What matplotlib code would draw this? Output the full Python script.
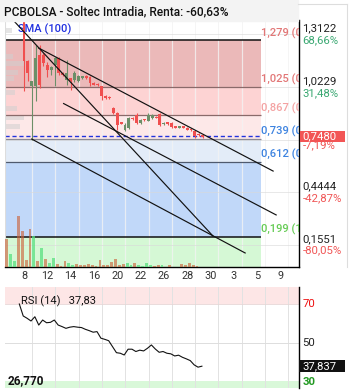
import numpy as np
import matplotlib
matplotlib.use("Agg")
import matplotlib.pyplot as plt
from matplotlib import transforms

plt.rcParams['font.family'] = ['Roboto', 'DejaVu Sans']

# ---------------- data ----------------
tick_labels = ["8", "12", "14", "16", "20", "22", "26", "28", "30", "3", "5", "9"]

opens  = [1.385, 1.166, 1.028, 1.028, 1.199, 1.199, 1.144, 1.116, 1.145, 1.182,
          1.100, 1.063, 1.072, 1.063, 1.056, 1.072, 1.083, 1.078, 1.045, 1.040,
          1.028, 0.973, 0.970, 0.908, 0.880, 0.828, 0.787, 0.798, 0.853, 0.871,
          0.825, 0.845, 0.838, 0.852, 0.860, 0.875, 0.820, 0.828, 0.825, 0.806,
          0.798, 0.806, 0.798, 0.792, 0.780, 0.764, 0.757]
highs  = [1.391, 1.172, 1.045, 1.254, 1.254, 1.210, 1.160, 1.140, 1.190, 1.190,
          1.105, 1.173, 1.075, 1.110, 1.090, 1.086, 1.088, 1.083, 1.050, 1.045,
          1.030, 0.978, 0.975, 0.912, 0.884, 0.832, 0.825, 0.858, 0.858, 0.880,
          0.848, 0.849, 0.878, 0.872, 0.864, 0.880, 0.830, 0.832, 0.828, 0.810,
          0.810, 0.810, 0.801, 0.795, 0.784, 0.768, 0.760]
lows   = [1.001, 1.056, 0.732, 0.946, 1.020, 1.140, 1.078, 1.090, 1.028, 1.090,
          1.085, 1.036, 1.006, 1.050, 1.050, 1.068, 1.068, 1.028, 1.032, 1.030,
          0.953, 0.955, 0.958, 0.876, 0.789, 0.818, 0.780, 0.790, 0.840, 0.820,
          0.820, 0.836, 0.834, 0.848, 0.851, 0.810, 0.816, 0.816, 0.795, 0.796,
          0.795, 0.795, 0.785, 0.782, 0.745, 0.752, 0.745]
closes = [1.166, 1.100, 1.056, 1.182, 1.034, 1.155, 1.116, 1.133, 1.182, 1.100,
          1.091, 1.100, 1.056, 1.100, 1.083, 1.083, 1.072, 1.045, 1.036, 1.034,
          0.973, 0.962, 0.962, 0.880, 0.814, 0.822, 0.814, 0.853, 0.845, 0.825,
          0.843, 0.840, 0.869, 0.869, 0.855, 0.816, 0.826, 0.820, 0.803, 0.800,
          0.806, 0.798, 0.789, 0.786, 0.752, 0.757, 0.748]

volume = [284, 127, 57, 514, 357, 67, 384, 307, 57, 194,
          77, 37, 87, 34, 10, 64, 44, 20, 34, 17,
          17, 34, 24, 10, 74, 24, 24, 50, 84, 17,
          34, 44, 17, 44, 17, 8, 44, 17, 8, 24,
          17, 5, 17, 5, 5, 27, 17, 43, 17, 8]
volume_up = [0, 1, 1, 0, 0, 0, 0, 1, 0, 1,
             0, 1, 1, 0, 0, 0, 1, 1, 0, 0,
             0, 0, 0, 0, 0, 0, 0, 0, 0, 0,
             0, 1, 1, 0, 1, 1, 1, 1, 0, 0,
             1, 0, 0, 0, 0, 0, 0, 0, 0, 0]

rsi = [70.0, 63.8, 62.6, 61.2, 63.4, 59.1, 61.7, 60.3, 60.5, 61.7,
       59.1, 58.3, 57.4, 58.0, 58.3, 58.0, 57.8, 56.9, 56.2, 55.4,
       55.7, 52.3, 51.7, 51.0, 47.9, 44.8, 44.5, 43.6, 46.6, 46.6,
       45.4, 46.1, 45.7, 47.1, 48.8, 46.7, 45.0, 45.4, 44.5, 44.2,
       43.1, 43.5, 42.4, 41.6, 40.7, 38.5, 37.3, 37.8]

fib_levels = [1.279, 1.025, 0.867, 0.739, 0.612, 0.199]
fib_texts = ["1,279 (0)", "1,025 (0,236)", "0,867 (0,382)",
             "0,739 (0,5)", "0,612 (0,618)", "0,199 (1)"]
sma_value = 0.754
last_price = 0.748

grid_values = [1.3122, 1.0229, 0.7337, 0.4444, 0.1551]
right_labels = ["1,3122", "1,0229", "0,7480", "0,4444", "0,1551"]
right_pcts = ["68,66%", "31,48%", "-7,19%", "-42,87%", "-80,05%"]

vp_prices = [1.335, 1.190, 1.150, 1.105, 1.070, 0.995, 0.905, 0.855, 0.805]
vp_volume = [30, 35, 90, 60, 40, 45, 55, 85, 70]

# trend lines (x in tick-index units, y in price)
trend_lines = [
    ((-0.47, 1.391), (8.11, 0.204)),
    ((0.63, 1.237), (10.69, 0.561)),
    ((1.70, 0.932), (10.82, 0.320)),
    ((0.33, 0.737), (9.49, 0.111)),
]

# ---------------- figure ----------------
W, H = 353, 390
fig = plt.figure(figsize=(W / 100, H / 100), dpi=100)


def rect(l, t, r, b):
    return [l / W, 1 - b / H, (r - l) / W, (b - t) / H]


XL, XR = -0.815, 11.80
ZONE_END = 10.16

# title band
fig.patches.append(plt.Rectangle((0, 1 - 21 / H), 298 / W, 21 / H,
                                 transform=fig.transFigure, color="#f3f3f3", zorder=0))
fig.add_artist(plt.Line2D([298 / W, 347 / W], [1 - 4 / H, 1 - 4 / H],
                          transform=fig.transFigure, color="#dddddd", lw=0.8))
fig.add_artist(plt.Line2D([347 / W, 347 / W], [1 - 4 / H, 1 - 267 / H],
                          transform=fig.transFigure, color="#dddddd", lw=0.8))
fig.text(4 / W, 1 - 12 / H, "PCBOLSA - Soltec Intradia, Renta: -60,63%",
         fontsize=8.6, fontweight="medium", color="#111111", va="center", ha="left")

ax = fig.add_axes(rect(5, 20, 299, 267))
ax.set_xlim(XL, XR)
ax.set_ylim(0.034, 1.391)

# fib zones
zone_colors = ["#ebb9b9", "#fdd3d3", "#fde8e8", "#e3ecf8", "#c1d8f9"]
for i in range(len(fib_levels) - 1):
    ax.fill_between([XL, ZONE_END], fib_levels[i + 1], fib_levels[i],
                    color=zone_colors[i], lw=0, zorder=0)
ax.fill_between([XL, ZONE_END], 0.034, fib_levels[-1], color="#d5f8d5", lw=0, zorder=0)

# grid
for i in range(len(tick_labels)):
    ax.axvline(i + 0.343, color="#ffffff", lw=0.9, alpha=0.55, zorder=0.5)
    ax.axvline(i + 0.343, color="#d9d9d9", lw=0.7, alpha=0.55, zorder=0.4)
for g in grid_values:
    ax.axhline(g, color="#d9d9d9", lw=0.7, alpha=0.6, zorder=0.5)

# volume profile
vp_max = max(vp_volume)
ax.barh(vp_prices, [v / vp_max * 0.85 for v in vp_volume], height=0.028, left=XL,
        color="#d0d0d0", alpha=0.55, lw=0, zorder=0.6)

# fib lines
fib_line_colors = ["#111111", "#8a6a6a", "#8a6a6a", "#8a8a96", "#4f5a6e", "#111111"]
fib_line_widths = [1.1, 0.9, 0.9, 0.9, 0.9, 1.1]
for lvl, c, lw in zip(fib_levels, fib_line_colors, fib_line_widths):
    ax.hlines(lvl, XL, ZONE_END, color=c, lw=lw, zorder=1)
ax.hlines(sma_value, XL, ZONE_END, color="#2233dd", lw=1.0, linestyles=(0, (3, 2)), zorder=1.2)

# fib labels
fib_label_colors = ["#e27777", "#e27777", "#f4a3a3", "#3d83e0", "#3d83e0", "#66cc55"]
off = transforms.offset_copy(ax.transData, fig=fig, x=0, y=1.2, units="points")
for lvl, t, c in zip(fib_levels, fib_texts, fib_label_colors):
    ax.text(ZONE_END + 0.02, lvl, t, color=c, fontsize=8.0, fontweight="medium",
            va="bottom", ha="left", transform=off, clip_on=True, zorder=3)

# SMA label
ax.text(0.045, 0.985, "SMA (100)", transform=ax.transAxes, color="#2030e0",
        fontsize=7.9, fontweight="medium", va="top", ha="left", zorder=2)

# volume (twin axis)
axv = ax.twinx()
axv.set_ylim(0, max(volume) * 247 / 51.4)
vol_x = [-0.742 + k / 6 for k in range(len(volume))]
vol_colors = [(0.35, 0.88, 0.5, 0.75) if u else (0.80, 0.38, 0.22, 0.62) for u in volume_up]
axv.bar(vol_x, volume, width=0.12, color=vol_colors, lw=0, zorder=1)
axv.axis("off")

# candles
cx = [j / 6 for j in range(len(opens))]
for x, o, h, l, c in zip(cx, opens, highs, lows, closes):
    col = "#6c8f68" if c >= o else "#f04f4f"
    ax.vlines(x, l, h, color=col, lw=0.8, zorder=2)
    ax.bar(x, max(abs(c - o), 0.005), bottom=min(o, c), width=0.125, color=col, lw=0, zorder=2.1)

# trend lines
for (x0, y0), (x1, y1) in trend_lines:
    ax.plot([x0, x1], [y0, y1], color="#111111", lw=0.85, zorder=2.5)

# axes styling
ax.set_xticks(range(len(tick_labels)))
ax.set_xticklabels(tick_labels, fontsize=7.8, color="#333333")
ax.tick_params(axis="x", length=0, pad=3.2)
ax.set_yticks([])
for s in ["top", "left"]:
    ax.spines[s].set_visible(False)
ax.spines["right"].set_color("#000000")
ax.spines["bottom"].set_color("#000000")
ax.spines["right"].set_linewidth(1.0)
ax.spines["bottom"].set_linewidth(1.0)
ax.add_artist(plt.Line2D([0, 0], [0, 1], transform=ax.transAxes, color="#dddddd", lw=0.8))

# right labels
ytr = transforms.blended_transform_factory(ax.transAxes, ax.transData)
for v, lab, pct in zip(grid_values, right_labels, right_pcts):
    pcol = "#3aa872" if not pct.startswith("-") else "#f05555"
    if lab == "0,7480":
        ax.text(1.012, 0.703, pct, transform=ytr, fontsize=8.2, color=pcol,
                va="center", ha="left", clip_on=False, zorder=3)
        ax.add_patch(plt.Rectangle((1.003, 0.721), 0.153, 0.060, transform=ytr,
                                   fc="#f25555", ec="none", clip_on=False, zorder=4))
        ax.text(1.012, 0.751, lab, transform=ytr, fontsize=8.2, color="white",
                va="center", ha="left", clip_on=False, zorder=5)
        continue
    ax.text(1.012, v + 0.006, lab, transform=ytr, fontsize=8.2, color="#222222",
            va="bottom", ha="left", clip_on=False)
    ax.text(1.012, v - 0.004, pct, transform=ytr, fontsize=8.2, color=pcol,
            va="top", ha="left", clip_on=False)

# ---------------- RSI panel ----------------
ar = fig.add_axes(rect(5, 287, 299, 387.5))
ar.set_xlim(XL, XR)
ar.set_ylim(26.77, 78.8)
ar.axhspan(70, 78.8, color="#fde6e6", lw=0, zorder=0)
ar.axhspan(26.77, 30, color="#d9f8d9", lw=0, zorder=0)
for i in range(len(tick_labels)):
    ar.axvline(i + 0.343, color="#e2e2e2", lw=0.7, zorder=0.5)
ar.axhline(50, color="#dddddd", lw=0.7, zorder=0.5)
ar.axhline(70, color="#e6d6d6", lw=0.6, zorder=0.5)
rsi_x = [-0.2 + k / 6 for k in range(len(rsi))]
ar.plot(rsi_x, rsi, color="#111111", lw=0.8, zorder=2)
ar.set_xticks([])
ar.set_yticks([])
for s in ["top", "left", "bottom"]:
    ar.spines[s].set_visible(False)
ar.spines["right"].set_color("#000000")
ar.spines["right"].set_linewidth(1.0)

rtr = transforms.blended_transform_factory(ar.transAxes, ar.transData)
ar.text(1.012, 70, "70", transform=rtr, color="#ee1111", fontsize=8.2, va="center", ha="left")
ar.text(1.012, 50, "50", transform=rtr, color="#222222", fontsize=8.2, va="center", ha="left")
ar.text(1.012, 29.5, "30", transform=rtr, color="#229922", fontsize=8.2, va="center",
        ha="left", fontweight="bold")
ar.add_patch(plt.Rectangle((1.0, 34.9), 0.156, 6.2, transform=rtr, fc="#111111",
                           ec="none", clip_on=False, zorder=4))
ar.text(1.012, 38.0, "37,837", transform=rtr, color="white", fontsize=8.2, va="center",
        ha="left", zorder=5)
ar.text(0.055, 0.92, "RSI (14)   37,83", transform=ar.transAxes, fontsize=8.0,
        color="#111111", va="top", ha="left")
ar.text(0.008, 0.0, "26,770", transform=ar.transAxes, fontsize=8.5, color="#111111",
        fontweight="bold", va="bottom", ha="left")

fig.savefig("out.png", dpi=100)
